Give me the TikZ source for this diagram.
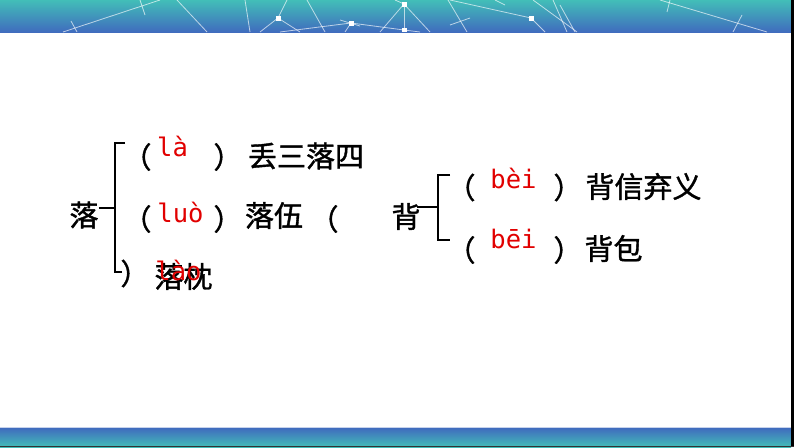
\documentclass[tikz,border=0pt]{standalone}
\usepackage{fontspec}
\newfontfamily\cjk[FakeBold=1.3]{Noto Sans CJK SC}
\newfontfamily\py{DejaVu Sans Mono}
\definecolor{pyred}{RGB}{225,0,0}
\definecolor{bandteal}{RGB}{66,190,184}
\definecolor{bandblue}{RGB}{64,108,190}
\tikzset{
  hz/.style={font=\cjk\fontsize{29}{30}\selectfont, inner sep=0pt, text=black},
  pin/.style={font=\py\fontsize{25.5}{27}\selectfont, inner sep=0pt, text=pyred},
  brk/.style={line width=2pt, black},
  net/.style={white, opacity=0.65, line width=0.8pt},
  sq/.style={fill=white, draw=none}
}
\begin{document}
\begin{tikzpicture}[x=1pt,y=-1pt]
\path[use as bounding box] (0,0) rectangle (794,447);
\fill[white] (0,0) rectangle (794,447);
% top band
\shade[top color=bandteal, bottom color=bandblue] (0,0) rectangle (791,32);
\begin{scope}
\clip (0,0) rectangle (791,32);
\draw[net] (63,32) -- (160,0);
\draw[net] (71,21) -- (77,32);
\draw[net] (140,0) -- (145,15);
\draw[net] (177,0) -- (207,32);
\draw[net] (245,0) -- (250,32);
\draw[net] (278,18) -- (287,0);
\draw[net] (278,18) -- (260,32);
\draw[net] (278,18) -- (300,32);
\draw[net] (307,0) -- (325,32);
\draw[net] (404,4) -- (380,32);
\draw[net] (404,4) -- (404,30);
\draw[net] (404,4) -- (430,32);
\draw[net] (404,4) -- (395,0);
\draw[net] (280,32) -- (351,23) -- (404,30) -- (420,32);
\draw[net] (351,23) -- (345,32);
\draw[net] (340,20) -- (360,26);
\draw[net] (448,0) -- (467,32);
\draw[net] (450,0) -- (531,18) -- (545,32);
\draw[net] (450,25) -- (470,18);
\draw[net] (533,0) -- (577,32);
\draw[net] (553,0) -- (567,32);
\draw[net] (495,0) -- (505,5);
\draw[net] (560,5) -- (575,32);
\draw[net] (660,0) -- (767,32);
\draw[net] (670,0) -- (667,12);
\draw[net] (742,15) -- (733,32);
\end{scope}
\fill[sq] (275.5,15.5) rectangle +(5,5);
\fill[sq] (401.5,1.5) rectangle +(5,5);
\fill[sq] (348.5,20.5) rectangle +(5,5);
\fill[sq] (401.5,27.5) rectangle +(5,4.5);
\fill[sq] (528.5,15.5) rectangle +(5,5);
% bottom band
\fill[white!70!bandblue] (0,426.5) rectangle (791,428);
\shade[top color=bandblue, bottom color=bandteal] (0,428) rectangle (791,447);
% right edge strip
\fill[black] (791,0) rectangle (794,447);
\fill[black!80] (0,446) rectangle (794,447);

% left group
\node[hz] (luo) at (84,215) {落};
\coordinate (lj) at (115,208);
\coordinate (lt) at (125,143);
\coordinate (lb) at (122,272);
\draw[brk] (luo.east) ++(0,-7) coordinate (ls) -- (lj);
\draw[brk] (lt) -| (115,272) -- (lb);

\node[hz] (p1l) at (137,157) {（};
\node[pin] (py1) at (172.5,146.5) {là};
\node[hz] (p1r) at (228,157) {）};
\node[hz] (w1) at (306,156) {丢三落四};

\node[hz] (p2l) at (137,219) {（};
\node[pin] (py2) at (180.5,212) {luò};
\node[hz] (p2r) at (228,219) {）};
\node[hz] (w2) at (274,215.5) {落伍};
\node[hz] (p2x) at (324,219) {（};

\node[hz] (p3r) at (135,273.5) {）};
\node[hz] (w3) at (183.5,276.5) {落枕};
\node[pin] (py3) at (178.5,270) {lào};

% right group
\node[hz] (bei) at (406,216.5) {背};
\coordinate (rj) at (438,207);
\coordinate (rt) at (450,175);
\coordinate (rb) at (450,240);
\draw[brk] (417,207) -- (rj);
\draw[brk] (rt) -| (rj) |- (rb);

\node[hz] (pal) at (461,187.5) {（};
\node[pin] (pya) at (513.5,178.5) {bèi};
\node[hz] (par) at (568,187.5) {）};
\node[hz] (wa) at (643.5,186.5) {背信弃义};

\node[hz] (pbl) at (461,250) {（};
\node[pin] (pyb) at (513.5,239) {bēi};
\node[hz] (pbr) at (568,250) {）};
\node[hz] (wb) at (613.5,248.5) {背包};
\end{tikzpicture}
\end{document}
